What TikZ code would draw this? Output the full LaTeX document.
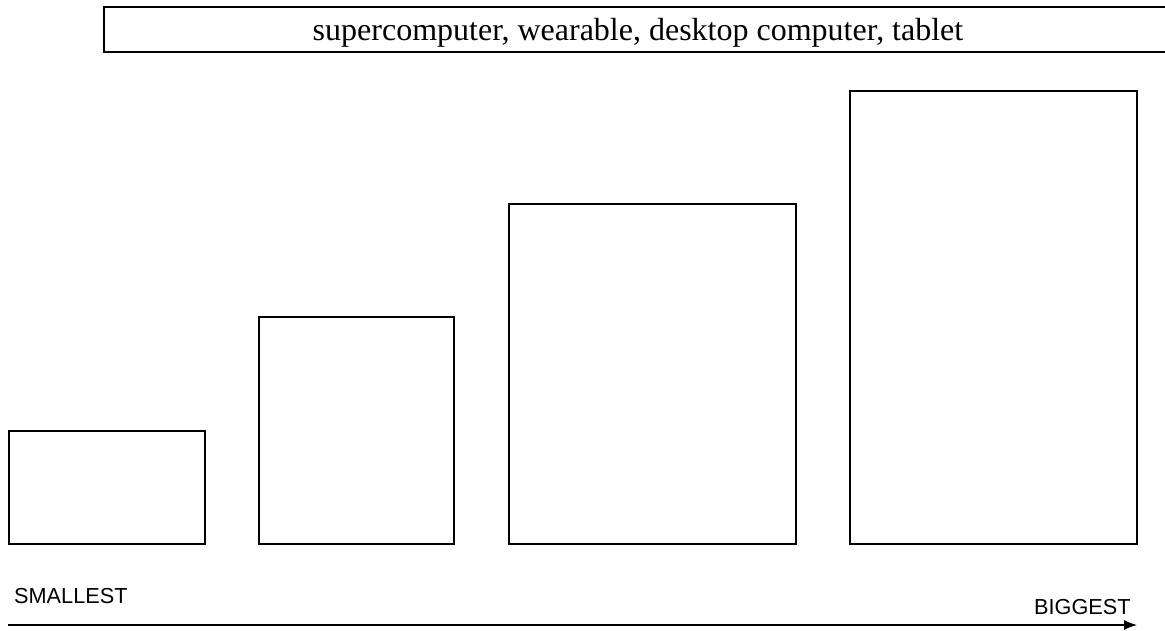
\documentclass[tikz,border=0pt]{standalone}
\usepackage{fontspec}
\setmainfont{Liberation Serif}
\newfontfamily\labelfont{Liberation Sans}
\usetikzlibrary{arrows.meta}
\begin{document}
\begin{tikzpicture}[x=1pt,y=-1pt,
  bar/.style={draw=black,line width=1.2pt,fill=white},
  endlabel/.style={font=\labelfont\fontsize{21.7}{25}\selectfont,inner sep=0pt,anchor=base west}]
\useasboundingbox (0,0) rectangle (1165,630);
\fill[white] (0,0) rectangle (1165,630);
\draw[line width=2pt] (1170,7) -- (104,7) -- (104,52) -- (1170,52);
\node[font=\fontsize{32}{38}\selectfont,inner sep=0pt,anchor=base] (title) at (638,40) {supercomputer, wearable, desktop computer, tablet};
\draw[bar] (9,431) rectangle (205,544);
\node (b1) at (107,487) {};
\draw[bar] (259,317) rectangle (454,544);
\node (b2) at (356,430) {};
\draw[bar] (509,204) rectangle (796,544);
\node (b3) at (652,374) {};
\draw[bar] (850,91) rectangle (1137,544);
\node (b4) at (993,317) {};
\node[endlabel] (small) at (14,603) {SMALLEST};
\node[endlabel] (big) at (1034,614) {BIGGEST};
\coordinate (a0) at (8,625);
\coordinate (a1) at (1137,625);
\draw[line width=1.2pt,-{Latex[length=13pt,width=10pt]}] (a0) -- (a1);
\end{tikzpicture}
\end{document}
